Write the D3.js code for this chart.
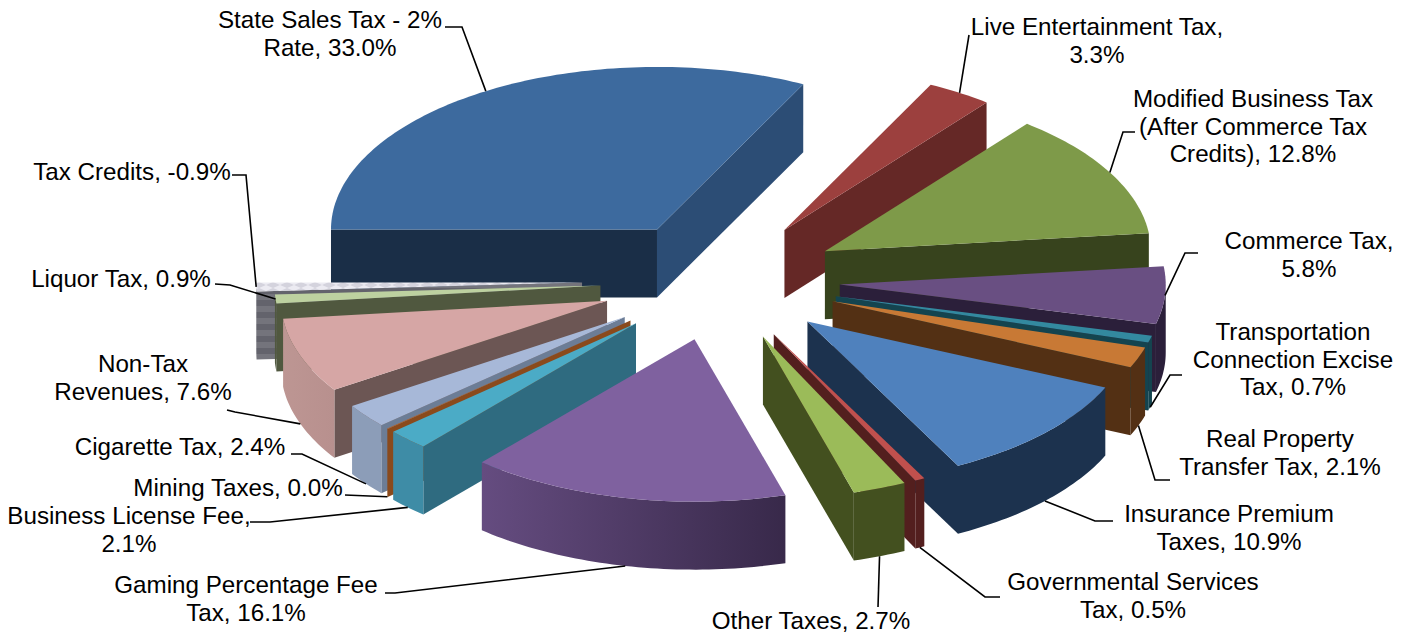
<!DOCTYPE html>
<html>
<head>
<meta charset="utf-8">
<script src="https://cdn.jsdelivr.net/npm/d3@7"></script>
<style>
  html, body { margin: 0; padding: 0; background: #fff; }
  svg { display: block; }
  text { font-family: "Liberation Sans", Arial, sans-serif; font-size: 24.2px; fill: #000; }
</style>
</head>
<body>
<div id="chart"></div>
<script>
// Data, clockwise from the 9 o'clock position
const categories = ["State Sales Tax - 2% Rate", "Live Entertainment Tax", "Modified Business Tax (After Commerce Tax Credits)",
    "Commerce Tax", "Transportation Connection Excise Tax", "Real Property Transfer Tax", "Insurance Premium Taxes",
    "Governmental Services Tax", "Other Taxes", "Gaming Percentage Fee Tax", "Business License Fee", "Mining Taxes",
    "Cigarette Tax", "Non-Tax Revenues", "Liquor Tax", "Tax Credits"];
const values = [33.0, 3.3, 12.8, 5.8, 0.7, 2.1, 10.9, 0.5, 2.7, 16.1, 2.1, 0.04, 2.4, 7.6, 0.9, -0.9];

const labelLines = [
    ["State Sales Tax - 2%", "Rate, 33.0%"], ["Live Entertainment Tax,", "3.3%"],
    ["Modified Business Tax", "(After Commerce Tax", "Credits), 12.8%"], ["Commerce Tax,", "5.8%"],
    ["Transportation", "Connection Excise", "Tax, 0.7%"], ["Real Property", "Transfer Tax, 2.1%"],
    ["Insurance Premium", "Taxes, 10.9%"], ["Governmental Services", "Tax, 0.5%"], ["Other Taxes, 2.7%"],
    ["Gaming Percentage Fee", "Tax, 16.1%"], ["Business License Fee,", "2.1%"], ["Mining Taxes, 0.0%"],
    ["Cigarette Tax, 2.4%"], ["Non-Tax", "Revenues, 7.6%"], ["Liquor Tax, 0.9%"], ["Tax Credits, -0.9%"]
];

// Slice colours: top face, visible radial faces, outer wall left and right
const topColors = ["#3d6a9e", "#9c403e", "#7e9a49", "#694f82", "#33899f", "#c87935", "#4f81bd", "#c0504d",
    "#9bbb59", "#7f619f", "#4babc6", "#b65f22", "#a7b8d8", "#d6a6a5", "#bdd1a0", "url(#creditTop)"];
const startFaceColors = ["#1a2e47", "#652826", "#37431d", "#2b1f3a", "#14444f", "#533014", "#1c324e", "#531f1e",
    "#43501f", "#35264a", "#2f6b80", "#8a4a1c", "#6c7d96", "#6c5654", "#50583f", "url(#creditWall)"];
const endFaceColors = ["#2c4d75", "#652826", "#37431d", "#2b1f3a", "#14444f", "#533014", "#1c324e", "#531f1e",
    "#43501f", "#35264a", "#2f6b80", "#8a4a1c", "#6c7d96", "#6c5654", "#50583f", "url(#creditWall)"];
const outerFrom = ["#2c4d75", "#652826", "#37431d", "#2b1f3a", "#14444f", "#533014", "#1c324e", "#531f1e",
    "#43501f", "#654c80", "#3e8ca6", "#8a4a1c", "#8c9db8", "#bd9693", "#50583f", "#6a6a72"];
const outerTo = ["#2c4d75", "#652826", "#37431d", "#2b1f3a", "#14444f", "#533014", "#1c324e", "#531f1e",
    "#43501f", "#38294a", "#3e8ca6", "#8a4a1c", "#8c9db8", "#b8908e", "#50583f", "#6a6a72"];

// How far each slice is pulled out of the pie
const explode = [120, 120, 120, 120, 120, 120, 120, 120, 120, 120, 120, 120, 120, 120, 120, 138];

// Label placement: centre x and first baseline of the text
const labelX = [330, 1097, 1253, 1309, 1293, 1280, 1229, 1133, 811, 246, 129, 238, 180, 143, 121, 132];
const labelY = [28, 35, 107, 249, 340, 447, 522, 590, 629, 593, 524, 496, 455, 372, 287, 180];
// Leader lines: where they leave the label, and their elbow
const leaderFrom = [[445, 27], [969, 35], [1135, 132], [1198, 253], [1182, 375], [1170, 480], [1113, 521], [1000, 597],
    [878, 607], [385, 593], [250, 522], [345, 495], [291, 454], [227, 410], [215, 284], [232, 175]];
const leaderElbow = [[462, 27], [969, 35], [1123, 132], [1185, 253], [1170, 375], [1155, 480], [1095, 521], [985, 597],
    [878, 607], [395, 593], [270, 522], [345, 495], [302, 454], [235, 412], [230, 285], [246, 175]];

const width = 1408, height = 633;
const cx = 720, cy = 280.5, rx = 326, ry = 162.5, depth = 68;

const svg = d3.select("#chart")
    .append("svg")
        .attr("width", width)
        .attr("height", height)
        .attr("viewBox", `0 0 ${width} ${height}`);

const defs = svg.append("defs");

const creditTop = defs.append("pattern")
    .attr("id", "creditTop")
    .attr("patternUnits", "userSpaceOnUse")
    .attr("width", 14)
    .attr("height", 6);
creditTop.append("rect").attr("width", 14).attr("height", 6).attr("fill", "#ecebf2");
creditTop.append("path").attr("d", "M0 3 L7 0 L14 3 L7 6 Z").attr("fill", "#d4d3dd");

const creditWall = defs.append("pattern")
    .attr("id", "creditWall")
    .attr("patternUnits", "userSpaceOnUse")
    .attr("width", 10)
    .attr("height", 12);
creditWall.append("rect").attr("width", 10).attr("height", 12).attr("fill", "#63636c");
creditWall.append("rect").attr("y", 6).attr("width", 10).attr("height", 6).attr("fill", "#74747c");

const pie = d3.pie()
    .value(d => Math.abs(d))
    .sort(null)
    .startAngle(1.5 * Math.PI)
    .endAngle(3.5 * Math.PI);

const slices = pie(values).map((d, i) => {
    const mid = (d.startAngle + d.endAngle) / 2;
    return {
        i: i,
        start: d.startAngle,
        end: d.endAngle,
        mid: mid,
        ax: cx + explode[i] * Math.sin(mid),
        ay: cy - explode[i] * 0.5 * Math.cos(mid)
    };
});

const onRim = (s, a) => [s.ax + rx * Math.sin(a), s.ay - ry * Math.cos(a)];
const line = d3.line();

// Clockwise rim points between two angles
const rimPoints = (s, a0, a1) => {
    const n = Math.max(2, Math.ceil((a1 - a0) / 0.02));
    return d3.range(n + 1).map(k => onRim(s, a0 + (a1 - a0) * k / n));
};

const down = p => [p[0], p[1] + depth];

// Back slices first, so the front ones cover them
const order = slices.slice().sort((a, b) => Math.cos(b.mid) - Math.cos(a.mid));

const bars = svg.append("g")
    .selectAll("g")
    .data(order)
    .join("g");

bars.each(function (s) {
    const g = d3.select(this);
    const apex = [s.ax, s.ay];

    // radial faces, only the ones turned towards the viewer
    if (Math.sin(s.start) < 0) {
        const p = onRim(s, s.start);
        g.append("path")
            .attr("d", line([apex, p, down(p), down(apex)]) + "Z")
            .attr("fill", startFaceColors[s.i]);
    }
    if (Math.sin(s.end) > 0) {
        const p = onRim(s, s.end);
        g.append("path")
            .attr("d", line([apex, p, down(p), down(apex)]) + "Z")
            .attr("fill", endFaceColors[s.i]);
    }

    // outer wall, front half of the rim only
    const turns = Math.floor(s.start / (2 * Math.PI));
    const a0 = Math.max(s.start, (turns * 2 + 0.5) * Math.PI);
    const a1 = Math.min(s.end, (turns * 2 + 1.5) * Math.PI);
    if (a1 > a0) {
        const id = "outer" + s.i;
        const grad = defs.append("linearGradient").attr("id", id);
        grad.append("stop").attr("offset", "0%").attr("stop-color", outerFrom[s.i]);
        grad.append("stop").attr("offset", "100%").attr("stop-color", outerTo[s.i]);
        const rim = rimPoints(s, a0, a1);
        g.append("path")
            .attr("d", line(rim.concat(rim.slice().reverse().map(down))) + "Z")
            .attr("fill", s.i === 15 ? "url(#creditWall)" : `url(#${id})`);
    }

    // top face
    g.append("path")
        .attr("d", line([apex].concat(rimPoints(s, s.start, s.end))) + "Z")
        .attr("fill", topColors[s.i]);
});

// Leader lines end on the rim at the middle of the slice, on the wall for the front ones
const leaders = svg.append("g")
    .selectAll("path")
    .data(slices)
    .join("path")
        .attr("fill", "none")
        .attr("stroke", "#000")
        .attr("stroke-width", 1.6)
        .attr("d", s => {
            let tip = onRim(s, s.mid);
            if (Math.cos(s.mid) < -0.2) tip = down(tip);
            return line([leaderFrom[s.i], leaderElbow[s.i], tip]);
        });

const labels = svg.append("g")
    .selectAll("text")
    .data(labelLines)
    .join("text")
        .attr("text-anchor", "middle")
        .attr("y", (d, i) => labelY[i]);

labels.selectAll("tspan")
    .data((d, i) => d.map((t, k) => ({ t: t, k: k, x: labelX[i] })))
    .join("tspan")
        .attr("x", d => d.x)
        .attr("dy", d => d.k === 0 ? 0 : 27.6)
        .text(d => d.t);
</script>
</body>
</html>
